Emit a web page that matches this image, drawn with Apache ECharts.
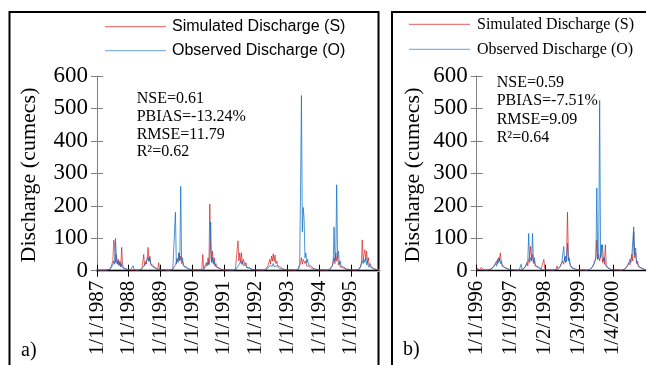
<!DOCTYPE html>
<html><head><meta charset="utf-8">
<script src="https://cdn.jsdelivr.net/npm/echarts@6/dist/echarts.min.js"></script>
<style>html,body{margin:0;padding:0;background:#fff}#c{width:646px;height:365px}</style>
</head><body><div id="c"></div>
<script>
// ---- Data (~10-day steps, 36 per year) ----
const tickLabelsLeft = ['1/1/1987','1/1/1988','1/1/1989','1/1/1990','1/1/1991','1/1/1992','1/1/1993','1/1/1994','1/1/1995'];
const tickLabelsRight = ['1/1/1996','1/1/1997','1/2/1998','1/3/1999','1/4/2000'];
const seriesNames = ['Simulated Discharge (S)', 'Observed Discharge (O)'];

const sim1987 = [2,2,1,1,1,1,1,1,1,1,1,2,2,3,3, 5,12,6,30,94,78,25,50,20,35,15,30,12,72,20,8,12,5,6,4,3];
const obs1987 = [3,3,2,2,2,2,2,2,2,2,2,2,3,3,4, 5,9,6,18,30,20,100,35,22,30,18,25,12,22,10,12,6,5,4,3,3];
const sim1988 = [3,2,2,2,2,3,2,2,1,1,1,2,2,3,4, 6,10,50,15,28,20,40,72,30,45,20,25,12,15,8,10,5,5,4,25,4];
const obs1988 = [3,3,3,3,3,15,4,3,2,2,2,2,3,3,4, 6,9,14,10,24,18,35,42,28,38,20,26,14,16,9,10,6,5,4,4,3];
const sim1989 = [3,2,2,2,2,2,2,2,1,1,1,2,2,3,4, 6,10,18,12,35,25,55,30,45,22,30,15,18,10,12,6,6,5,4,3,3];
const obs1989 = [3,3,3,3,3,3,3,3,2,2,2,2,3,3,4, 6,10,180,20,38,30,55,35,260,30,40,18,22,10,12,7,7,5,4,4,3];
const sim1990 = [3,2,2,2,2,2,2,2,2,2,3,5,50,6,8, 12,25,15,40,20,205,60,30,60,25,40,15,22,10,12,6,7,5,4,3,3];
const obs1990 = [3,3,3,3,3,3,3,3,2,2,2,3,4,4,5, 8,14,10,25,18,38,150,25,40,20,30,14,18,9,11,6,7,5,4,4,3];
const sim1991 = [3,2,2,2,2,2,2,2,2,2,2,2,3,4,6, 10,92,30,55,25,55,20,35,40,18,25,10,14,8,9,5,6,4,4,3,3];
const obs1991 = [3,3,3,3,3,3,3,3,2,2,2,2,3,4,5, 8,14,20,15,28,20,30,16,22,12,17,9,12,7,8,5,5,4,4,3,3];
const sim1992 = [3,2,2,2,2,2,2,2,2,2,2,3,4,8,15, 25,35,20,45,30,52,28,48,22,30,15,18,10,12,7,7,5,4,4,3,3];
const obs1992 = [3,3,3,3,3,3,3,3,2,2,2,3,3,5,8, 12,15,10,20,14,22,13,18,11,14,9,11,7,8,6,5,5,4,4,3,3];
const sim1993 = [3,2,2,2,2,2,2,2,2,2,2,3,4,6,10, 25,40,20,35,40,22,30,14,20,10,14,8,10,6,7,5,5,4,4,3,3];
const obs1993 = [3,3,3,3,3,3,3,3,2,2,2,3,4,6,20, 260,540,120,195,160,40,55,25,35,18,22,12,14,8,10,6,6,5,4,4,3];
const sim1994 = [3,2,2,2,2,2,2,2,2,2,2,3,4,6,10, 15,30,40,22,55,30,45,18,25,12,16,8,10,6,7,5,5,4,4,3,3];
const obs1994 = [3,3,3,3,3,3,3,3,2,2,2,3,4,6,10, 15,25,135,30,50,265,40,60,20,30,12,16,9,11,7,7,5,5,4,4,3];
const sim1995 = [3,2,2,2,2,2,2,2,3,4,6,12,25,95,30,50,65,35,60,25,40,15,22,10,12,6,7,4,5,3,3,3,3];
const obs1995 = [3,3,3,3,3,3,3,3,3,4,6,10,20,30,22,35,25,38,18,28,12,18,8,12,6,7,5,5,4,4,3,3,3];

const sim1996 = [8,5,4,3,6,10,4,3,2,2,2,2,3,3,4, 5,6,8,12,18,12,30,20,40,30,55,25,30,14,15,8,8,6,5,4,3];
const obs1996 = [5,4,4,3,3,4,3,3,2,2,2,2,3,3,4, 5,6,8,12,15,22,14,35,25,40,22,30,14,15,10,9,6,6,5,4,3];
const sim1997 = [3,3,2,2,2,2,2,2,2,2,2,3,3,4,6, 10,15,25,15,35,45,75,30,50,22,30,14,18,8,10,5,6,4,4,3,35];
const obs1997 = [3,3,3,3,3,3,3,3,2,2,2,20,4,4,6, 10,15,22,30,115,25,40,30,115,28,40,16,22,10,12,6,7,5,4,4,3];
const sim1998 = [5,3,3,2,2,2,2,2,2,2,2,3,4,15,5, 8,12,18,12,30,20,40,25,45,180,35,40,18,22,8,10,5,5,4,4,3];
const obs1998 = [4,3,3,3,3,3,3,3,2,2,2,3,4,5,5, 8,12,18,25,20,75,30,45,28,85,30,40,15,20,8,10,6,5,4,4,3];
const sim1999 = [3,3,2,2,2,2,2,2,2,2,2,3,4,6,10, 15,20,30,40,95,35,50,30,45,80,25,40,20,80,18,15,8,7,5,4,3];
const obs1999 = [3,3,3,3,3,3,3,3,2,2,2,3,4,6,10, 15,22,30,40,255,35,50,525,40,55,80,30,40,18,22,10,9,6,5,4,3];
const sim2000 = [3,3,2,2,2,2,2,2,2,2,2,3,4,6,8, 12,18,25,18,35,50,30,120,40,55,22,30,12,16,7,9,5,5,4,3,3];
const obs2000 = [3,3,3,3,3,3,3,3,2,2,2,3,4,6,8, 12,18,25,35,25,45,40,135,50,70,30,35,16,20,9,10,6,5,4,4,3];

const statsLeft = ['NSE=0.61', 'PBIAS=-13.24%', 'RMSE=11.79', 'R\u00B2=0.62'];
const statsRight = ['NSE=0.59', 'PBIAS=-7.51%', 'RMSE=9.09', 'R\u00B2=0.64'];

const simLeft = [].concat(sim1987, sim1988, sim1989, sim1990, sim1991, sim1992, sim1993, sim1994, sim1995);
const obsLeft = [].concat(obs1987, obs1988, obs1989, obs1990, obs1991, obs1992, obs1993, obs1994, obs1995);
const simRight = [].concat(sim1996, sim1997, sim1998, sim1999, sim2000);
const obsRight = [].concat(obs1996, obs1997, obs1998, obs1999, obs2000);
const catsLeft = simLeft.map((_, i) => String(i));
const catsRight = simRight.map((_, i) => String(i));

// ---- Chart ----
const SERIF = '"Liberation Serif", "Times New Roman", serif';
const SANS = '"Liberation Sans", Arial, sans-serif';
const RED = 'rgba(205,10,10,0.62)';
const BLUE = 'rgba(10,110,200,0.72)';

function xMain(grid, cats, labels, bandColor) {
  return [{
    type: 'category', gridIndex: grid, position: 'bottom', data: cats, boundaryGap: false, z: 3,
    axisLine: { show: true, lineStyle: { color: '#000', width: 1 } },
    axisTick: { show: true, interval: 35, length: 6, lineStyle: { color: '#000', width: 1 } },
    axisLabel: { interval: 35, rotate: 90, margin: 10, fontFamily: SERIF, fontSize: 21, color: '#000',
      formatter: (v, idx) => labels[Math.round(idx / 36)] || '' }
  }, {
    type: 'category', gridIndex: grid, position: 'bottom', data: cats, boundaryGap: false, z: 1,
    axisLine: { show: true, lineStyle: { color: bandColor, width: 3 } },
    axisTick: { show: true, inside: true, interval: 35, length: 6, lineStyle: { color: '#000', width: 1 } },
    axisLabel: { show: false }
  }];
}
function yMain(grid) {
  return [{
    type: 'value', gridIndex: grid, position: 'left', min: 0, max: 600, interval: 100,
    axisLine: { show: true, lineStyle: { color: '#808080', width: 1 } },
    axisTick: { show: true, length: 6, lineStyle: { color: '#808080' } },
    splitLine: { show: false },
    axisLabel: { margin: 9, fontFamily: SERIF, fontSize: 23, color: '#000' }
  }, {
    type: 'value', gridIndex: grid, position: 'left', min: 0, max: 600, interval: 100,
    axisLine: { show: false },
    axisTick: { show: true, inside: true, length: 6, lineStyle: { color: '#808080' } },
    splitLine: { show: false }, axisLabel: { show: false }
  }];
}

function legendGroup(x1, x2, tx, y1, y2, font) {
  return [
    { type: 'line', shape: { x1: x1, y1: y1, x2: x2, y2: y1 }, style: { stroke: 'rgba(232,90,90,0.8)', lineWidth: 1.2 } },
    { type: 'text', x: tx, y: y1, style: { text: seriesNames[0], font: font, fill: '#000', verticalAlign: 'middle' } },
    { type: 'line', shape: { x1: x1, y1: y2, x2: x2, y2: y2 }, style: { stroke: 'rgba(100,160,215,0.8)', lineWidth: 1.2 } },
    { type: 'text', x: tx, y: y2, style: { text: seriesNames[1], font: font, fill: '#000', verticalAlign: 'middle' } }
  ];
}
function statsGroup(x, ys, lines) {
  return lines.map((t, k) => ({ type: 'text', x: x, y: ys[k],
    style: { text: t, font: '16px ' + SERIF, fill: '#000', verticalAlign: 'middle' } }));
}

const option = {
  animation: false,
  backgroundColor: '#fff',
  grid: [
    { left: 97, top: 76, width: 282, height: 194.7, containLabel: false },
    { left: 476.7, top: 76, width: 169.3, height: 194.7, containLabel: false }
  ],
  xAxis: [].concat(xMain(0, catsLeft, tickLabelsLeft, '#b0b0b0'), xMain(1, catsRight, tickLabelsRight, '#c8c8c8')),
  yAxis: [].concat(yMain(0), yMain(1)),
  series: [
    { name: seriesNames[0], type: 'line', xAxisIndex: 0, yAxisIndex: 0, data: simLeft, symbol: 'none', lineStyle: { color: RED, width: 1 }, itemStyle: { color: RED } },
    { name: seriesNames[1], type: 'line', xAxisIndex: 0, yAxisIndex: 0, data: obsLeft, symbol: 'none', lineStyle: { color: BLUE, width: 1 }, itemStyle: { color: BLUE } },
    { name: seriesNames[0], type: 'line', xAxisIndex: 2, yAxisIndex: 2, data: simRight, symbol: 'none', lineStyle: { color: RED, width: 1 }, itemStyle: { color: RED } },
    { name: seriesNames[1], type: 'line', xAxisIndex: 2, yAxisIndex: 2, data: obsRight, symbol: 'none', lineStyle: { color: BLUE, width: 1 }, itemStyle: { color: BLUE } }
  ],
  graphic: [].concat(
    [
      { type: 'rect', shape: { x: 9.5, y: 12, width: 369, height: 400 }, style: { fill: 'none', stroke: '#000', lineWidth: 2 } },
      { type: 'rect', shape: { x: 392, y: 12, width: 300, height: 400 }, style: { fill: 'none', stroke: '#000', lineWidth: 2 } },
      { type: 'text', x: 29, y: 175, rotation: Math.PI / 2, style: { text: 'Discharge (cumecs)', font: '22px ' + SERIF, fill: '#000', align: 'center', verticalAlign: 'middle' } },
      { type: 'text', x: 413, y: 175, rotation: Math.PI / 2, style: { text: 'Discharge (cumecs)', font: '22px ' + SERIF, fill: '#000', align: 'center', verticalAlign: 'middle' } },
      { type: 'text', x: 21, y: 351, style: { text: 'a)', font: '20px ' + SERIF, fill: '#000', verticalAlign: 'middle' } },
      { type: 'text', x: 403, y: 350, style: { text: 'b)', font: '20px ' + SERIF, fill: '#000', verticalAlign: 'middle' } }
    ],
    legendGroup(105, 166, 172, 26.7, 50.7, '16px ' + SANS),
    legendGroup(409, 470, 477, 24.3, 49.3, '16px ' + SERIF),
    statsGroup(136.7, [98.3, 116.5, 134.5, 152], statsLeft),
    statsGroup(496.7, [82.7, 101, 119.3, 137.3], statsRight)
  )
};
const chart = echarts.init(document.getElementById('c'), null, { renderer: 'canvas' });
chart.setOption(option);
</script></body></html>
